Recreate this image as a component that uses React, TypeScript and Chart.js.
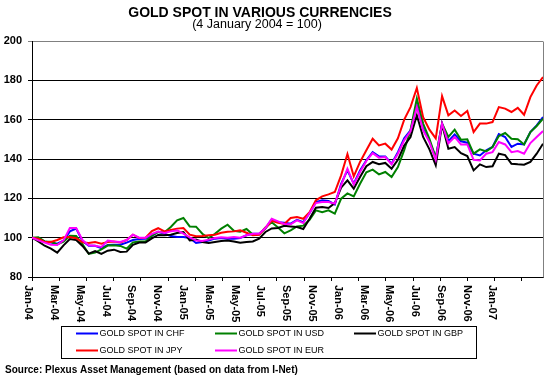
import React, { useEffect, useRef } from "react";
import { Chart, registerables } from "chart.js";

Chart.register(...registerables);

// ---- data (index: 4 Jan 2004 = 100), fortnightly observations ----
const WEEKS: number[] = Array.from({ length: 82 }, (_, j) => 2 * j); // weeks since early Jan 2004

const CHF = [100, 99.5, 98.1, 97.5, 96.9, 98.5, 103.2, 104.6, 98.3, 95.9,
  95.9, 94.7, 96.3, 96.4, 96.4, 97.5, 98.8, 99.3, 99.5, 100.9,
  103.0, 102.0, 100.8, 100.3, 100.3, 99.8, 97.3, 97.8, 98.6, 99.5,
  99.8, 99.5, 99.5, 99.8, 101.2, 102.0, 102.0, 104.6, 109.3, 107.9,
  107.6, 107.1, 109.1, 107.9, 112.5, 118.1, 119.0, 118.6, 116.9, 127.4,
  134.2, 127.4, 134.2, 139.3, 143.5, 141.3, 141.3, 137.6, 143.5, 150.5,
  154.6, 167.3, 155.4, 149.1, 140.7, 158.0, 149.1, 152.5, 149.0, 148.3,
  142.7, 141.8, 144.4, 146.1, 152.7, 151.2, 146.1, 147.8, 147.4, 153.7,
  157.1, 161.3];

const USD = [100, 100.2, 98.1, 97.9, 96.6, 98.0, 101.0, 100.9, 96.8, 91.7,
  92.4, 94.1, 96.0, 96.2, 95.8, 94.4, 97.6, 98.1, 98.0, 101.0,
  102.9, 102.8, 105.4, 108.8, 110.0, 105.7, 105.6, 102.0, 99.8, 102.0,
  104.6, 106.6, 103.5, 103.0, 104.4, 101.6, 101.6, 105.2, 107.8, 105.2,
  102.2, 103.7, 105.7, 106.1, 109.1, 113.9, 113.0, 113.9, 112.2, 119.8,
  122.5, 121.0, 127.4, 133.2, 134.6, 132.2, 133.4, 130.8, 135.9, 144.5,
  154.6, 170.7, 158.0, 150.3, 140.7, 158.0, 151.2, 154.9, 149.8, 150.0,
  142.7, 144.9, 143.9, 146.1, 151.7, 153.2, 150.3, 150.0, 147.4, 153.7,
  156.8, 160.5];

const GBP = [100, 98.1, 95.9, 94.4, 92.4, 96.1, 99.3, 98.8, 95.8, 91.9,
  93.2, 91.7, 93.4, 93.9, 92.7, 92.9, 96.4, 97.5, 97.5, 99.6,
  101.4, 101.2, 101.5, 102.4, 102.9, 98.6, 99.0, 97.8, 97.3, 97.8,
  98.3, 98.6, 98.1, 97.4, 97.8, 98.1, 99.5, 102.9, 104.7, 104.9,
  106.0, 105.7, 105.4, 104.4, 109.6, 115.2, 115.6, 115.1, 117.6, 125.4,
  129.1, 124.9, 130.8, 136.3, 138.5, 137.3, 138.0, 135.1, 139.6, 146.8,
  151.2, 162.2, 151.2, 144.9, 136.8, 157.5, 145.2, 146.1, 143.0, 141.5,
  134.2, 137.3, 135.9, 136.3, 142.7, 142.0, 137.6, 137.3, 137.1, 138.5,
  142.7, 147.8];

const JPY = [100, 99.5, 97.8, 97.8, 98.8, 100.2, 100.3, 99.7, 97.6, 97.3,
  97.8, 96.9, 97.8, 98.0, 97.5, 98.8, 101.5, 99.8, 100.0, 103.3,
  104.8, 103.2, 103.9, 104.6, 104.9, 101.5, 100.7, 100.8, 101.2, 101.5,
  102.5, 103.0, 103.2, 103.7, 102.5, 101.2, 101.5, 104.9, 108.6, 107.6,
  107.0, 110.0, 110.5, 109.6, 113.0, 119.0, 121.0, 122.0, 123.2, 131.7,
  142.5, 131.2, 138.5, 144.4, 150.3, 146.9, 147.8, 144.8, 150.5, 160.0,
  166.4, 176.1, 161.3, 154.9, 150.5, 172.0, 162.2, 164.7, 161.9, 164.4,
  153.7, 158.0, 158.0, 158.8, 166.4, 165.6, 163.9, 166.0, 162.5, 171.5,
  177.4, 181.7];

const EUR = [100, 98.6, 97.5, 96.4, 96.3, 98.6, 104.9, 104.9, 98.8, 96.1,
  95.9, 95.3, 98.5, 98.0, 97.8, 98.8, 101.5, 100.0, 100.0, 101.9,
  103.1, 102.4, 103.2, 103.7, 102.0, 100.2, 98.6, 98.3, 99.0, 99.8,
  100.2, 100.0, 100.3, 100.0, 101.2, 102.0, 102.0, 104.9, 109.6, 108.3,
  107.0, 106.8, 108.8, 107.4, 112.5, 117.6, 118.1, 118.1, 117.3, 126.6,
  135.1, 127.1, 133.4, 139.0, 143.0, 140.7, 141.0, 137.3, 142.7, 149.5,
  154.1, 166.4, 154.6, 148.6, 139.6, 158.0, 148.0, 151.2, 147.4, 147.4,
  139.6, 139.3, 142.7, 143.5, 148.6, 147.4, 143.5, 144.0, 142.7, 148.1,
  151.2, 154.2];

const X_LABELS = ["Jan-04", "Mar-04", "May-04", "Jul-04", "Sep-04", "Nov-04",
  "Jan-05", "Mar-05", "May-05", "Jul-05", "Sep-05", "Nov-05",
  "Jan-06", "Mar-06", "May-06", "Jul-06", "Sep-06", "Nov-06", "Jan-07"];

const Y_TICKS = [80, 100, 120, 140, 160, 180, 200];

const TITLE = "GOLD SPOT IN VARIOUS CURRENCIES";
const SUBTITLE = "(4 January 2004 = 100)";
const SOURCE = "Source: Plexus Asset Management (based on data from I-Net)";

const SERIES = [
  { label: "GOLD SPOT IN CHF", data: CHF, color: "#0000FF", order: 5 },
  { label: "GOLD SPOT IN USD", data: USD, color: "#008000", order: 4 },
  { label: "GOLD SPOT IN GBP", data: GBP, color: "#000000", order: 3 },
  { label: "GOLD SPOT IN JPY", data: JPY, color: "#FF0000", order: 2 },
  { label: "GOLD SPOT IN EUR", data: EUR, color: "#FF00FF", order: 1 },
];

// axis layout in weeks
const X_MAX = 162;
const TICK_STEP = 8.63;
const LABEL_START = -1.17;
const LABEL_STEP = 8.175;

const FONT = '"Liberation Sans", Arial, Helvetica, sans-serif';

const overlay = {
  id: "overlay",
  afterDraw(chart: any) {
    const { ctx, chartArea: a, scales } = chart;
    const xs = scales.x;
    ctx.save();
    // right plot border
    ctx.strokeStyle = "#808080";
    ctx.lineWidth = 1;
    const rx = Math.round(a.right) + 0.5;
    ctx.beginPath();
    ctx.moveTo(rx, Math.round(a.top) + 0.5);
    ctx.lineTo(rx, Math.round(a.bottom) + 0.5);
    ctx.stroke();

    // titles
    ctx.fillStyle = "#000";
    ctx.textAlign = "center";
    ctx.textBaseline = "middle";
    ctx.font = `bold 14px ${FONT}`;
    ctx.fillText(TITLE, 260, 13);
    ctx.font = `12.5px ${FONT}`;
    ctx.fillText(SUBTITLE, 257, 24.5);

    // rotated x labels
    ctx.font = `bold 11px ${FONT}`;
    ctx.textAlign = "left";
    X_LABELS.forEach((lab, k) => {
      const px = xs.getPixelForValue(LABEL_START + LABEL_STEP * k);
      ctx.save();
      ctx.translate(px, a.bottom + 8);
      ctx.rotate(Math.PI / 2);
      ctx.fillText(lab, 0, 0);
      ctx.restore();
    });

    // legend
    ctx.strokeStyle = "#000";
    ctx.lineWidth = 1;
    ctx.strokeRect(61.5, 326.5, 415, 32);
    const cols = [76, 215, 354];
    const rows = [333.5, 350.5];
    ctx.font = `9px ${FONT}`;
    ctx.textAlign = "left";
    SERIES.forEach((s, i) => {
      const cx = cols[i % 3];
      const cy = rows[Math.floor(i / 3)];
      ctx.strokeStyle = s.color;
      ctx.lineWidth = 2;
      ctx.beginPath();
      ctx.moveTo(cx, cy);
      ctx.lineTo(cx + 22, cy);
      ctx.stroke();
      ctx.fillStyle = "#000";
      ctx.fillText(s.label, cx + 23.5, cy);
    });

    // source
    ctx.font = `bold 10px ${FONT}`;
    ctx.fillText(SOURCE, 5, 370);
    ctx.restore();
  },
};

export default function App() {
  const ref = useRef<HTMLCanvasElement | null>(null);

  useEffect(() => {
    if (!ref.current) return;
    const chart = new Chart(ref.current, {
      type: "line",
      data: {
        datasets: SERIES.map((s) => ({
          label: s.label,
          data: s.data.map((v, j) => ({ x: WEEKS[j], y: v })),
          borderColor: s.color,
          backgroundColor: s.color,
          borderWidth: 2,
          pointRadius: 0,
          tension: 0,
          order: s.order,
        })),
      },
      options: {
        animation: false,
        responsive: false,
        events: [],
        layout: { padding: { left: 0, right: 11, top: 41, bottom: 0 } },
        plugins: { legend: { display: false }, title: { display: false }, tooltip: { enabled: false } },
        scales: {
          x: {
            type: "linear",
            min: 0,
            max: X_MAX,
            afterBuildTicks: (scale: any) => {
              const t = [];
              for (let v = 0; v <= X_MAX + 0.01; v += TICK_STEP) t.push({ value: v });
              scale.ticks = t;
            },
            afterFit: (scale: any) => { scale.height = 103; },
            ticks: { display: false },
            grid: { drawOnChartArea: false, drawTicks: true, tickLength: 4, color: "#000" },
            border: { display: true, color: "#000", width: 1 },
          },
          y: {
            min: 80,
            max: 200,
            afterBuildTicks: (scale: any) => { scale.ticks = Y_TICKS.map((v) => ({ value: v })); },
            afterFit: (scale: any) => { scale.width = 32; },
            ticks: {
              padding: 6,
              color: "#000",
              font: { family: FONT, size: 11, weight: "bold" },
            },
            grid: {
              tickLength: 4,
              color: (c: any) => (c.tick && c.tick.value === 200 ? "#808080" : "#000"),
            },
            border: { display: true, color: "#000", width: 1 },
          },
        },
      },
      plugins: [overlay],
    });
    return () => chart.destroy();
  }, []);

  return (
    <div style={{ position: "absolute", left: 0, top: 0, width: 554, height: 380, background: "#fff" }}>
      <canvas ref={ref} width={554} height={380} />
    </div>
  );
}
